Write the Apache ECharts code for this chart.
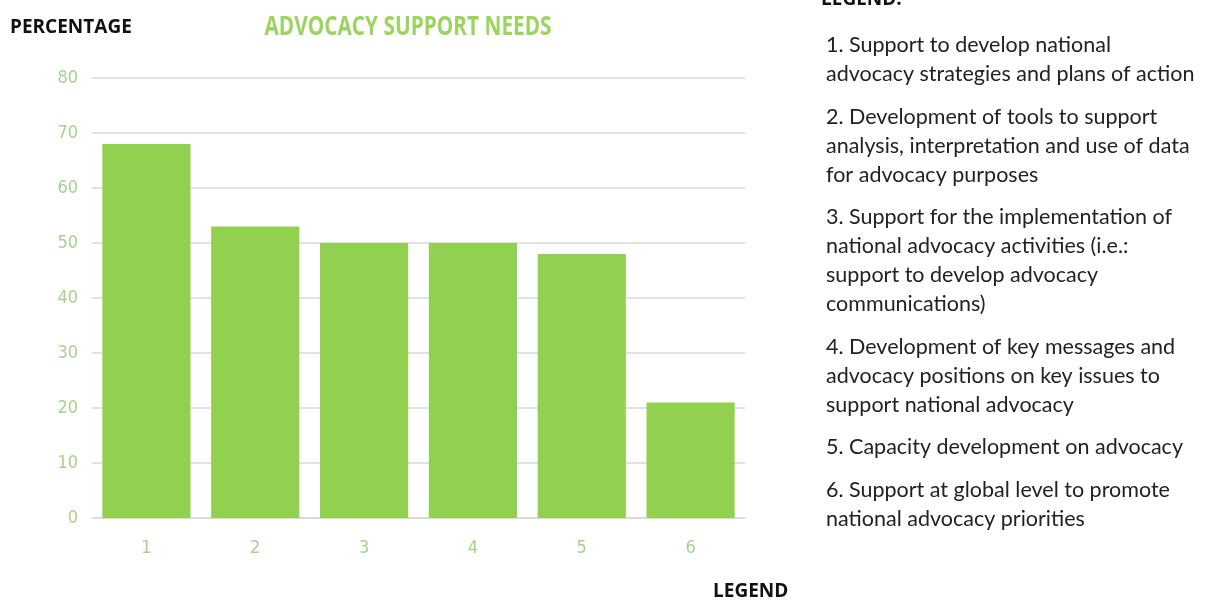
<!DOCTYPE html>
<html>
<head>
<meta charset="utf-8">
<script src="https://cdn.jsdelivr.net/npm/echarts@6/dist/echarts.min.js"></script>
<style>
html,body{margin:0;padding:0;background:#fff;}
#main{width:1217px;height:600px;}
</style>
</head>
<body>
<div id="main"></div>
<script>
var categories = ['1', '2', '3', '4', '5', '6'];
var values = [68, 53, 50, 50, 48, 21];
var yTicks = [0, 10, 20, 30, 40, 50, 60, 70, 80];
var titleText = 'ADVOCACY SUPPORT NEEDS';
var yAxisTitle = 'PERCENTAGE';
var xAxisTitle = 'LEGEND';
var legendTitle = 'LEGEND:';
var legendItems = [
  '1. Support to develop national\nadvocacy strategies and plans of action',
  '2. Development of tools to support\nanalysis, interpretation and use of data\nfor advocacy purposes',
  '3. Support for the implementation of\nnational advocacy activities (i.e.:\nsupport to develop advocacy\ncommunications)',
  '4. Development of key messages and\nadvocacy positions on key issues to\nsupport national advocacy',
  '5. Capacity development on advocacy',
  '6. Support at global level to promote\nnational advocacy priorities'
];

var chart = echarts.init(document.getElementById('main'));

var LH = 29, GAP = 13.5, startY = 31;
var graphics = [];
var y = startY;
legendItems.forEach(function (t) {
  var n = t.split('\n').length;
  graphics.push({
    type: 'text', x: 826, y: y,
    style: { text: t, font: '21.5px Lato, "Open Sans", sans-serif', fill: '#222', lineHeight: LH }
  });
  y += n * LH + GAP;
});
graphics.push({
  type: 'text', x: 821, y: -10,
  style: { text: legendTitle, font: 'bold 19px "Open Sans", Lato, sans-serif', fill: '#111' }
});
graphics.push({
  type: 'text', x: 10, y: 28,
  style: { text: yAxisTitle, font: 'bold 19px "Open Sans", Lato, sans-serif', fill: '#111', verticalAlign: 'middle' }
});
graphics.push({
  type: 'text', x: 713, y: 592,
  style: { text: xAxisTitle, font: 'bold 19px "Open Sans", Lato, sans-serif', fill: '#111', verticalAlign: 'middle' }
});
graphics.push({
  type: 'text', x: 408, y: 27, scaleX: 0.77,
  style: { text: titleText, font: 'bold 27px "Open Sans", sans-serif',
    fill: '#9bd45f', align: 'center', verticalAlign: 'middle' }
});

chart.setOption({
  animation: false,
  backgroundColor: '#fff',
  grid: { left: 92, right: 1217 - 745, top: 78, bottom: 600 - 518, containLabel: false },
  xAxis: {
    type: 'category',
    data: categories,
    axisLine: { show: true, lineStyle: { color: '#d9d9d9', width: 1.5 } },
    axisTick: { show: false },
    axisLabel: { color: '#a9d18e', fontSize: 18, margin: 21, fontFamily: '"DejaVu Sans Condensed", "Liberation Sans Narrow", sans-serif' }
  },
  yAxis: {
    type: 'value',
    min: yTicks[0], max: yTicks[yTicks.length - 1], interval: 10,
    axisLine: { show: false },
    axisTick: { show: false },
    splitLine: { lineStyle: { color: '#d9d9d9', width: 1.5 } },
    axisLabel: { color: '#a9d18e', fontSize: 18, margin: 14, fontFamily: '"DejaVu Sans Condensed", "Liberation Sans Narrow", sans-serif' }
  },
  series: [{
    type: 'bar',
    data: values,
    barCategoryGap: '19%',
    itemStyle: { color: '#92d050' }
  }],
  graphic: graphics
});
</script>
</body>
</html>
